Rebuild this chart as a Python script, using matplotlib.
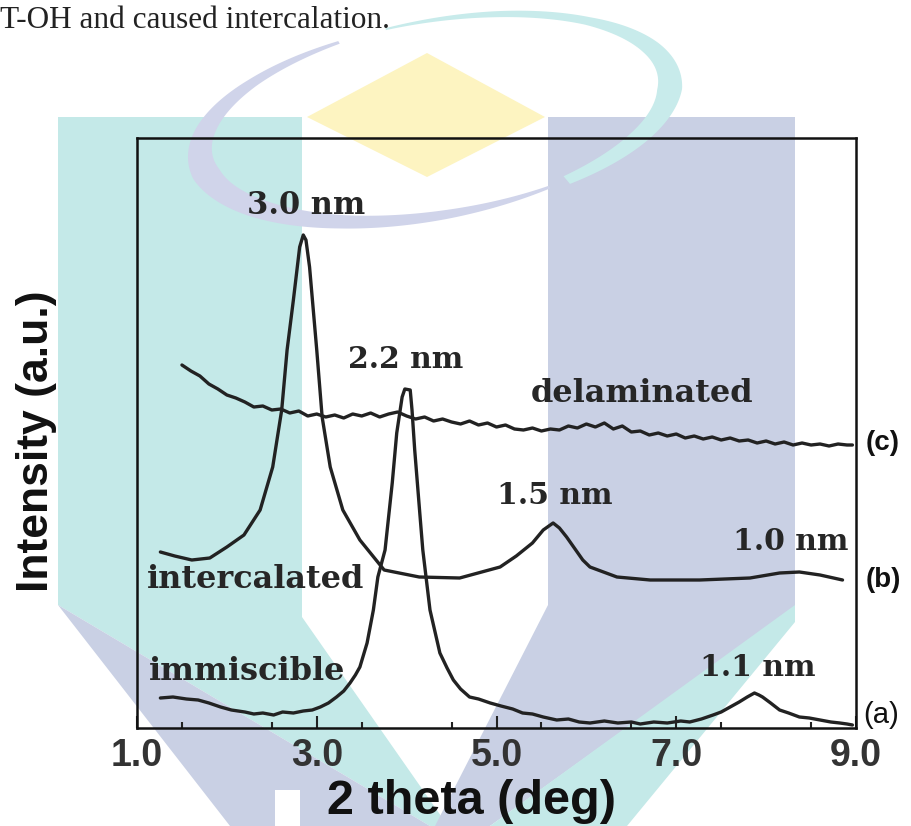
import numpy as np
import matplotlib
matplotlib.use("Agg")
import matplotlib.pyplot as plt
from matplotlib.patches import Polygon

# ---------------- data ----------------
# 2 theta (deg) / intensity (a.u.)
x_a = [1.26, 1.40, 1.55, 1.68, 1.80, 1.93, 2.05, 2.20, 2.30, 2.40, 2.52, 2.62, 2.74, 2.85, 2.95,
       3.04, 3.13, 3.22, 3.30, 3.37, 3.43, 3.48, 3.56, 3.63, 3.68, 3.76, 3.84, 3.89, 3.95, 3.98,
       4.04, 4.06, 4.09, 4.15, 4.18, 4.26, 4.37, 4.45, 4.52, 4.60, 4.70, 4.80, 4.93, 5.05, 5.18,
       5.29, 5.40, 5.52, 5.67, 5.80, 5.92, 6.04, 6.20, 6.35, 6.50, 6.60, 6.75, 6.90, 7.05, 7.15,
       7.28, 7.41, 7.50, 7.60, 7.70, 7.79, 7.87, 7.92, 7.96, 8.05, 8.15, 8.25, 8.37, 8.48, 8.60,
       8.72, 8.82, 8.90, 8.96]
y_a = [30, 31, 29, 28, 25, 21, 18, 16, 14, 15, 13, 16, 15, 17, 18,
       21, 25, 31, 37, 45, 53, 61, 85, 118, 151, 178, 245, 295, 331, 339,
       338, 318, 278, 211, 178, 118, 75, 60, 48, 39, 31, 29, 25, 22, 19,
       15, 14, 11, 8, 9, 6, 5, 7, 5, 6, 4, 6, 5, 7, 6,
       9, 13, 16, 21, 26, 31, 35, 33, 31, 25, 18, 15, 11, 10, 8,
       6, 5, 4, 3]

x_b = [1.26, 1.42, 1.61, 1.81, 2.00, 2.19, 2.37, 2.51, 2.61, 2.67, 2.74, 2.81, 2.85, 2.88, 2.92,
       3.00, 3.06, 3.15, 3.29, 3.48, 3.75, 4.14, 4.59, 5.04, 5.22, 5.40, 5.52, 5.63, 5.70, 5.78,
       5.96, 6.04, 6.34, 6.71, 7.26, 7.82, 8.15, 8.37, 8.60, 8.85]
y_b = [176, 172, 168, 170, 181, 193, 218, 261, 318, 378, 428, 481, 493, 488, 461,
       378, 311, 261, 218, 188, 158, 151, 150, 161, 172, 185, 198, 205, 200, 191,
       168, 161, 151, 148, 148, 150, 155, 156, 153, 148]

x_c = [1.50, 1.60, 1.70, 1.80, 1.90, 2.00, 2.10, 2.20, 2.30, 2.40, 2.50, 2.60, 2.70, 2.80, 2.90,
       3.00, 3.10, 3.20, 3.30, 3.40, 3.50, 3.60, 3.70, 3.80, 3.90, 4.00, 4.10, 4.20, 4.30, 4.40,
       4.50, 4.60, 4.70, 4.80, 4.90, 5.00, 5.10, 5.20, 5.30, 5.40, 5.50, 5.60, 5.70, 5.80, 5.90,
       6.00, 6.10, 6.20, 6.30, 6.40, 6.50, 6.60, 6.70, 6.80, 6.90, 7.00, 7.10, 7.20, 7.30, 7.40,
       7.50, 7.60, 7.70, 7.80, 7.90, 8.00, 8.10, 8.20, 8.30, 8.40, 8.50, 8.60, 8.70, 8.80, 8.90,
       8.96]
y_c = [363, 357, 352, 344, 339, 333, 330, 326, 321, 322, 318, 319, 315, 317, 312,
       314, 311, 313, 310, 314, 312, 315, 311, 314, 316, 312, 309, 311, 307, 309,
       306, 304, 307, 303, 305, 301, 303, 299, 298, 300, 297, 299, 298, 302, 300,
       304, 301, 305, 299, 302, 296, 297, 293, 295, 292, 294, 290, 292, 289, 291,
       288, 290, 287, 288, 285, 287, 284, 286, 283, 285, 283, 284, 282, 284, 283,
       283]

major_ticks = [1.0, 3.0, 5.0, 7.0, 9.0]
major_labels = ["1.0", "3.0", "5.0", "7.0", "9.0"]

# ---------------- figure ----------------
W, H = 911, 826
fig = plt.figure(figsize=(W / 100, H / 100), dpi=100)

# watermark / background layer in pixel coordinates
bg = fig.add_axes([0, 0, 1, 1], zorder=0)
bg.set_xlim(0, W)
bg.set_ylim(H, 0)
bg.axis("off")

TEAL = "#c4e9e8"
LAV = "#c9d0e4"
YEL = "#fdf4c1"
ARC_T = "#c8ebeb"
ARC_L = "#d0d4ea"

def poly(pts, color, z=1):
    bg.add_patch(Polygon(pts, closed=True, facecolor=color, edgecolor="none", zorder=z))

# left teal block + band
poly([(58, 117), (302, 117), (302, 617), (448, 826), (430, 826), (58, 605)], TEAL)
# lower-left lavender band
poly([(58, 605), (230, 826), (430, 826)], LAV)
# right blue block + band
poly([(548, 117), (795, 117), (795, 607), (490, 826), (435, 826), (548, 605)], LAV)
# lower-right teal band
poly([(490, 826), (795, 605), (795, 622), (627, 826)], TEAL)
# white letter stub
poly([(275, 790), (300, 790), (300, 826), (275, 826)], "white", 2)

# swoosh (tilted ellipse band)
C = np.array([435.0, 118.0])
A, B, PHI = 238.0, 97.0, np.deg2rad(10)
u = np.array([np.cos(PHI), -np.sin(PHI)])
v = np.array([np.sin(PHI), np.cos(PHI)])

def band(t0, t1, wts, color):
    t = np.linspace(np.deg2rad(t0), np.deg2rad(t1), 200)
    knots = np.linspace(t[0], t[-1], len(wts))
    w = np.interp(t, knots, wts)
    outer = C + np.outer((A + w / 2) * np.cos(t), u) + np.outer((B + w / 2) * np.sin(t), v)
    inner = C + np.outer((A - w / 2) * np.cos(t), u) + np.outer((B - w / 2) * np.sin(t), v)
    poly(np.vstack([outer, inner[::-1]]), color, 3)

band(262, 420, [2, 6, 9, 18, 25, 18, 10], ARC_T)
band(65, 250, [3, 9, 14, 22, 28, 20, 10, 3], ARC_L)

# yellow diamond
poly([(307, 117), (427, 53), (545, 117), (427, 177)], YEL, 4)

# clipped text of the surrounding document
fig.text(0, 1 - 28 / H, "T-OH and caused intercalation.", fontsize=22.5,
         family="Liberation Serif", color="#222222", ha="left", va="baseline")

# ---------------- chart ----------------
ax = fig.add_axes([137 / W, 1 - 728 / H, (856 - 137) / W, (728 - 138) / H], zorder=5)
ax.patch.set_alpha(0)
LC = "#222222"
for xs, ys in ((x_a, y_a), (x_b, y_b), (x_c, y_c)):
    ax.plot(xs, ys, color=LC, lw=2.4, solid_joinstyle="round", solid_capstyle="round")

ax.set_xlim(1, 9)
ax.set_ylim(0, 590)
ax.set_yticks([])
ax.set_xticks(major_ticks)
ax.set_xticks(np.arange(1.5, 9.0, 1.0), minor=True)
ax.set_xticklabels(major_labels)
for lab in ax.get_xticklabels():
    lab.set_family("Liberation Sans")
    lab.set_weight("bold")
    lab.set_fontsize(27)
ax.tick_params(axis="x", which="major", direction="in", length=9, width=1.5, pad=7, colors=LC,
               labelcolor="#333333")
ax.tick_params(axis="x", which="minor", direction="in", length=4, width=1.5, colors=LC)
for s in ax.spines.values():
    s.set_linewidth(1.8)
    s.set_color("#111111")

ser = dict(family="DejaVu Serif", color="#262626", ha="center", va="center", weight="bold")
ax.text(2.88, 522, "3.0 nm", fontsize=22, **ser)
ax.text(3.99, 369, "2.2 nm", fontsize=21.5, **ser)
ax.text(6.62, 334, "delaminated", fontsize=23, **ser)
ax.text(5.65, 232, "1.5 nm", fontsize=21.5, **ser)
ax.text(8.27, 186, "1.0 nm", fontsize=21.5, **ser)
ax.text(2.32, 148, "intercalated", fontsize=23, **ser)
ax.text(2.22, 57, "immiscible", fontsize=23, **ser)
ax.text(7.91, 60, "1.1 nm", fontsize=21.5, **ser)

san = dict(family="Liberation Sans", color="#111111", ha="center", va="center", clip_on=False)
ax.text(9.30, 285, "(c)", fontsize=20, weight="bold", **san)
ax.text(9.30, 148, "(b)", fontsize=20, weight="bold", **san)
ax.text(9.28, 13, "(a)", fontsize=21, **san)

fig.text(471 / W, 1 - 802 / H, "2 theta (deg)", fontsize=35, weight="bold",
         family="Liberation Sans", color="#111111", ha="center", va="center")
fig.text(37 / W, 1 - 441 / H, "Intensity (a.u.)", fontsize=32, weight="bold",
         family="Liberation Sans", color="#111111", ha="center", va="center", rotation=90)

fig.savefig("out.png", dpi=100)
